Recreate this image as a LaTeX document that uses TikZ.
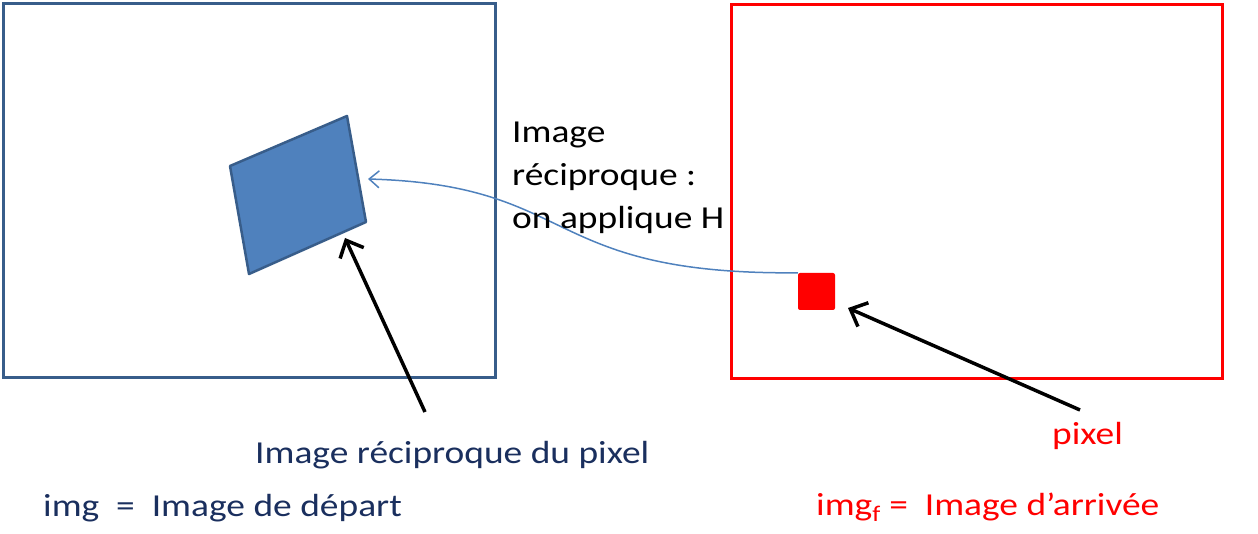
\documentclass[tikz,border=0pt]{standalone}
\usepackage{fontspec}
\setmainfont{Carlito}[FakeStretch=1.17]
\usetikzlibrary{arrows.meta}
\definecolor{frameblue}{HTML}{385D8A}
\definecolor{fillblue}{HTML}{4F81BD}
\definecolor{navy}{HTML}{1A2F5E}
\definecolor{pred}{HTML}{FF0000}
\begin{document}
\begin{tikzpicture}[x=1pt,y=-1pt,
  lbl/.style={inner sep=0pt,font=\fontsize{32}{43}\selectfont},
  frame/.style={line width=3pt},
  pointer/.style={line width=3.5pt,-{Straight Barb[length=14pt,width=26pt]}},
  mapping/.style={fillblue,line width=1.5pt,-{Straight Barb[length=10pt,width=17pt]}}
]
\useasboundingbox (0,0) rectangle (1258,534);
% frames
\draw[frame,frameblue] (3.5,3.5) rectangle (495.5,377.5);
\draw[frame,pred] (731.5,4.5) rectangle (1222.5,378.5);
% preimage quadrilateral
\draw[line width=2.5pt,draw=frameblue,fill=fillblue,line join=round]
  (230,166) -- (347,116) -- (366,222) -- (249,274) -- cycle;
% pixel
\node[fill=pred,rounded corners=2pt,minimum size=37pt,inner sep=0pt] (pix) at (816.5,291.5) {};
\coordinate (tgt) at (368,179);
\draw[mapping] (pix.north west) .. controls (540,275) and (580,185) .. (tgt);
% texts
\node[lbl,anchor=base west,align=left] (expl) at (512,229) {Image\\réciproque :\\on applique H};
\node[lbl,navy,anchor=base west] (recip) at (255,463) {Image réciproque du pixel};
\node[lbl,navy,anchor=base west] (dep) at (43,516) {img\ \ =\ \ Image de départ};
\node[lbl,pred,anchor=base west] (pxl) at (1052,444) {pixel};
\node[lbl,pred,anchor=base west] (arr) at (816,515) {img\textsubscript{f} =\ \ Image d’arrivée};
% pointers
\coordinate (s1) at (425,412);
\coordinate (t1) at (345,238);
\draw[pointer] (s1) -- (t1);
\coordinate (s2) at (1080,410);
\coordinate (t2) at (848,308);
\draw[pointer] (s2) -- (t2);
\end{tikzpicture}
\end{document}
